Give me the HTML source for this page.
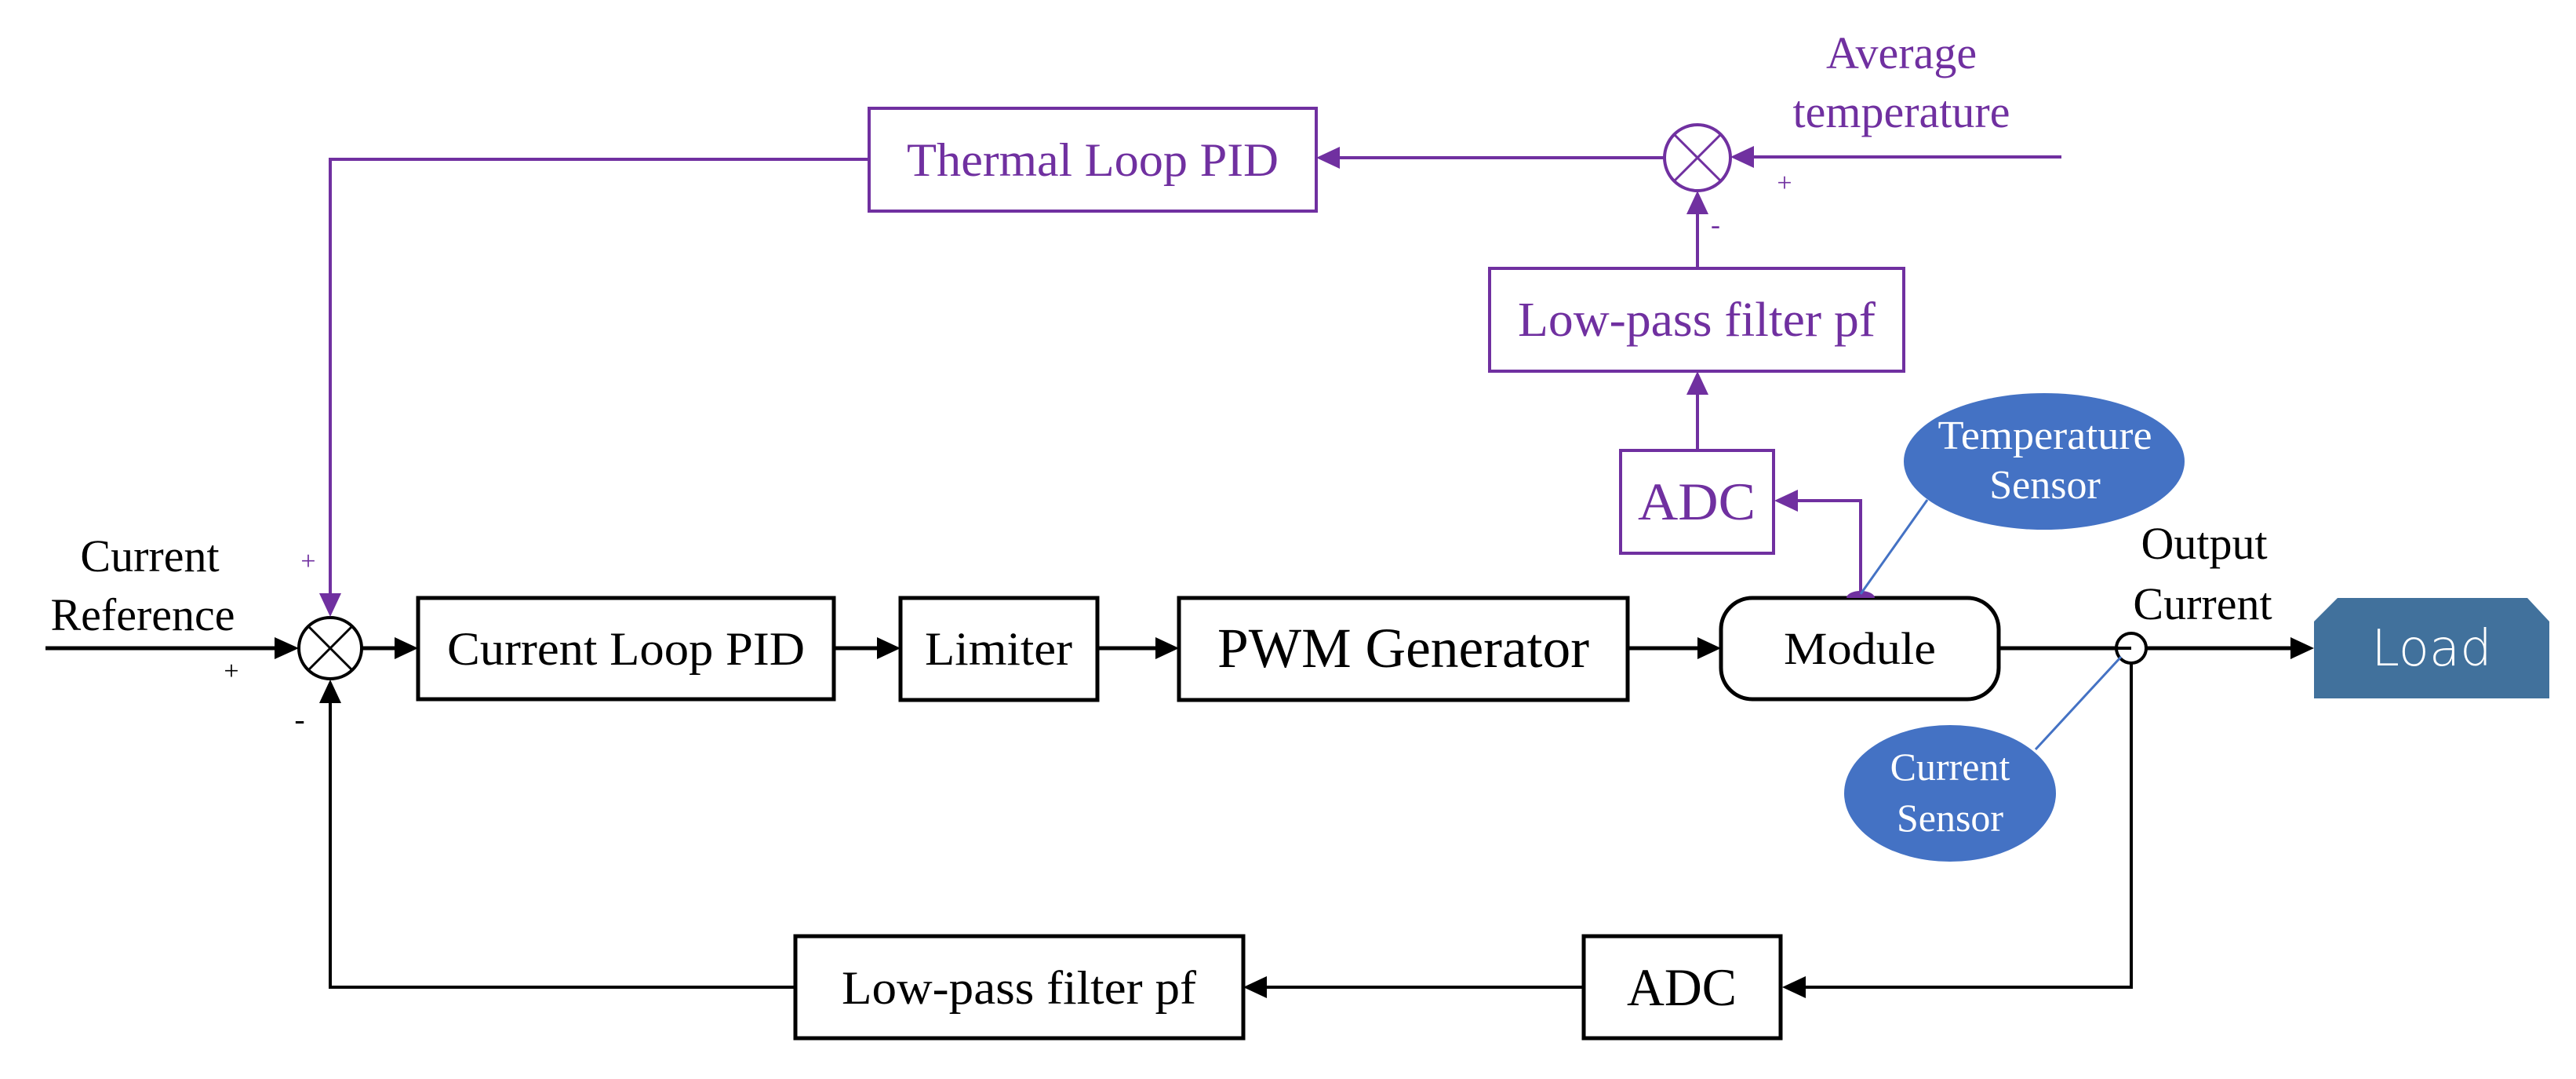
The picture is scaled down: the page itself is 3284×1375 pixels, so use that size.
<!DOCTYPE html>
<html><head><meta charset="utf-8"><style>
html,body{margin:0;padding:0;background:#fff;}
svg{display:block;}
text{font-family:"Liberation Serif",serif;}
</style></head><body>
<svg width="3284" height="1375" viewBox="0 0 3284 1375" xmlns="http://www.w3.org/2000/svg">
<g fill="none" stroke="#000" stroke-width="5">
  <line x1="58" y1="826" x2="352" y2="826"/>
  <line x1="461" y1="826" x2="505" y2="826"/>
  <line x1="1063" y1="826" x2="1120" y2="826"/>
  <line x1="1399" y1="826" x2="1475" y2="826"/>
  <line x1="2075" y1="826" x2="2166" y2="826"/>
  <line x1="2548" y1="826" x2="2717" y2="826"/>
  <line x1="2736" y1="826" x2="2922" y2="826"/>
  <polyline points="2717,845 2717,1258 2300,1258" stroke-width="4"/>
  <line x1="2019" y1="1258" x2="1613" y2="1258" stroke-width="4"/>
  <polyline points="1014,1258 421,1258 421,894" stroke-width="4"/>
  <rect x="533" y="762" width="530" height="129"/>
  <rect x="1148" y="762" width="251" height="130"/>
  <rect x="1503" y="762" width="572" height="130"/>
  <rect x="2194" y="762" width="354" height="129" rx="40"/>
  <rect x="2019" y="1193" width="251" height="130"/>
  <rect x="1014" y="1193" width="571" height="130"/>
  <ellipse cx="421" cy="826" rx="40" ry="39" stroke-width="4"/>
  <line x1="393" y1="798" x2="449" y2="854" stroke-width="3"/>
  <line x1="449" y1="798" x2="393" y2="854" stroke-width="3"/>
  <circle cx="2717" cy="826" r="19" fill="#fff" stroke-width="4"/>
</g>
<line x1="2698" y1="826" x2="2717" y2="826" stroke="#000" stroke-width="4"/>
<g fill="#000">
  <polygon points="381,826 350,812 350,840"/>
  <polygon points="533,826 503,812 503,840"/>
  <polygon points="1148,826 1118,812 1118,840"/>
  <polygon points="1503,826 1473,812 1473,840"/>
  <polygon points="2194,826 2164,812 2164,840"/>
  <polygon points="2950,826 2920,812 2920,840"/>
  <polygon points="2272,1258 2302,1244 2302,1272"/>
  <polygon points="1585,1258 1615,1244 1615,1272"/>
  <polygon points="421,866 407,896 435,896"/>
</g>
<g fill="none" stroke="#7030a0" stroke-width="4">
  <rect x="1108" y="138" width="570" height="131"/>
  <rect x="1899" y="342" width="528" height="131"/>
  <rect x="2066" y="574" width="195" height="131"/>
  <polyline points="1108,203 421,203 421,758"/>
  <line x1="2122" y1="201" x2="1706" y2="201"/>
  <line x1="2628" y1="200" x2="2234" y2="200"/>
  <line x1="2164" y1="342" x2="2164" y2="271"/>
  <line x1="2164" y1="574" x2="2164" y2="501"/>
  <polyline points="2372,760 2372,638 2290,638"/>
  <circle cx="2164" cy="201" r="42"/>
  <line x1="2135" y1="172" x2="2193" y2="230" stroke-width="3"/>
  <line x1="2193" y1="172" x2="2135" y2="230" stroke-width="3"/>
</g>
<g fill="#7030a0">
  <polygon points="421,786 407,756 435,756"/>
  <polygon points="1678,201 1708,187 1708,215"/>
  <polygon points="2206,200 2236,186 2236,214"/>
  <polygon points="2164,243 2150,273 2178,273"/>
  <polygon points="2164,473 2150,503 2178,503"/>
  <polygon points="2262,638 2292,624 2292,652"/>
  <path d="M2354,762 A18,9 0 0 1 2390,762 Z"/>
</g>
<line x1="2457" y1="637" x2="2372" y2="757" stroke="#4472c4" stroke-width="3"/>
<line x1="2595" y1="955" x2="2704" y2="837" stroke="#4472c4" stroke-width="3"/>
<ellipse cx="2606" cy="588" rx="179" ry="87" fill="#4472c4"/>
<ellipse cx="2486" cy="1011" rx="135" ry="87" fill="#4472c4"/>
<polygon points="2980,762 3222,762 3250,792 3250,890 2950,890 2950,792" fill="#41719c"/>

<g fill="#000" text-anchor="middle">
  <text x="191" y="728" font-size="58">Current</text>
  <text x="182" y="803" font-size="58">Reference</text>
  <text x="295" y="866" font-size="34">+</text>
  <text x="382" y="930" font-size="40">-</text>
  <text x="798" y="847" font-size="60" textLength="456" lengthAdjust="spacingAndGlyphs">Current Loop PID</text>
  <text x="1273" y="847" font-size="60" textLength="188" lengthAdjust="spacingAndGlyphs">Limiter</text>
  <text x="1789" y="850" font-size="72" textLength="474" lengthAdjust="spacingAndGlyphs">PWM Generator</text>
  <text x="2371" y="846" font-size="58" textLength="194" lengthAdjust="spacingAndGlyphs">Module</text>
  <text x="2810" y="712" font-size="58">Output</text>
  <text x="2808" y="789" font-size="58">Current</text>
  <text x="2144" y="1281" font-size="68" textLength="140" lengthAdjust="spacingAndGlyphs">ADC</text>
  <text x="1299" y="1279" font-size="60" textLength="452" lengthAdjust="spacingAndGlyphs">Low-pass filter pf</text>
</g>
<g fill="#fff" text-anchor="middle">
  <text x="2607" y="572" font-size="52" textLength="273" lengthAdjust="spacingAndGlyphs">Temperature</text>
  <text x="2607" y="635" font-size="52">Sensor</text>
  <text x="2486" y="994" font-size="50">Current</text>
  <text x="2486" y="1059" font-size="50">Sensor</text>
  <text x="3100" y="848" font-size="64" style="font-family:'DejaVu Sans','Liberation Sans',sans-serif;font-weight:300">Load</text>
</g>
<g fill="#7030a0" text-anchor="middle">
  <text x="393" y="726" font-size="34">+</text>
  <text x="1393" y="224" font-size="60" textLength="474" lengthAdjust="spacingAndGlyphs">Thermal Loop PID</text>
  <text x="2163" y="428" font-size="62" textLength="456" lengthAdjust="spacingAndGlyphs">Low-pass filter pf</text>
  <text x="2163" y="662" font-size="68" textLength="150" lengthAdjust="spacingAndGlyphs">ADC</text>
  <text x="2424" y="87" font-size="58">Average</text>
  <text x="2424" y="162" font-size="58">temperature</text>
  <text x="2275" y="244" font-size="34">+</text>
  <text x="2187" y="298" font-size="36">-</text>
</g>
</svg>
</body></html>
